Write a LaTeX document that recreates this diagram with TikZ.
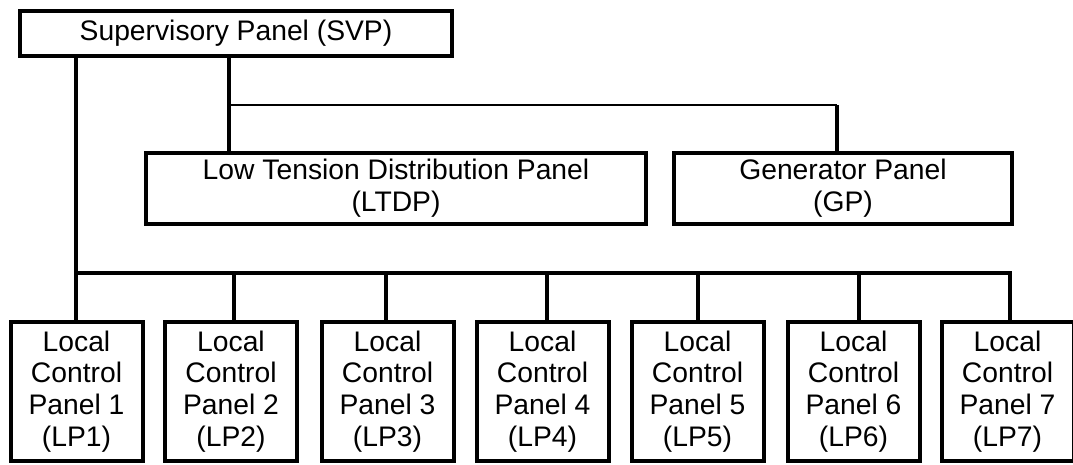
\documentclass[tikz,border=0pt]{standalone}
\usepackage{fontspec}
\setmainfont{Liberation Sans}
\newcommand{\panelfont}{\fontsize{21.2pt}{23.8pt}\selectfont}
\begin{document}
\begin{tikzpicture}[x=0.75pt,y=-0.75pt,
  box/.style={draw,line width=3pt,inner sep=0pt,align=center,font=\panelfont},
  widebox/.style={box,minimum height=53.25pt},
  lpbox/.style={box,minimum width=99pt,minimum height=104.25pt},
  wire/.style={line width=2.7pt},
  thinwire/.style={line width=2.1pt}]
\useasboundingbox (0,0) rectangle (1073,464);

% supervisory panel
\node[box,minimum width=324pt,minimum height=33.75pt] (svp) at (236,33.5) {Supervisory Panel (SVP)};

% second level panels
\node[widebox,minimum width=375pt] (ltdp) at (396,188.5) {Low Tension Distribution Panel\\(LTDP)};
\node[widebox,minimum width=253.5pt] (gp) at (843,188.5) {Generator Panel\\(GP)};

% local control panels
\node[lpbox] (lp1) at (76.5,391.5)  {Local\\Control\\Panel 1\\(LP1)};
\node[lpbox] (lp2) at (231,391.5)   {Local\\Control\\Panel 2\\(LP2)};
\node[lpbox] (lp3) at (387.5,391.5) {Local\\Control\\Panel 3\\(LP3)};
\node[lpbox] (lp4) at (542.5,391.5) {Local\\Control\\Panel 4\\(LP4)};
\node[lpbox] (lp5) at (697.5,391.5) {Local\\Control\\Panel 5\\(LP5)};
\node[lpbox] (lp6) at (853.5,391.5) {Local\\Control\\Panel 6\\(LP6)};
\node[lpbox] (lp7) at (1007.5,391.5){Local\\Control\\Panel 7\\(LP7)};

% tap points on the local panel bus
\coordinate (t1) at (76,273);
\coordinate (t2) at (234,273);
\coordinate (t3) at (386,273);
\coordinate (t4) at (547,273);
\coordinate (t5) at (698,273);
\coordinate (t6) at (859,273);
\coordinate (t7) at (1010,273);

% tap points for the upper feeders
\coordinate (u1) at (229,105);
\coordinate (u2) at (837,105);

% feeders from the supervisory panel
\draw[wire] (svp.south -| u1) -- (ltdp.north -| u1);
\draw[thinwire] (u1) -- (u2);
\draw[wire] (u2) -- (gp.north -| u2);

% local panel bus
\draw[wire] (svp.south -| t1) -- (t1) -- (t7) -- (lp7.north -| t7);
\draw[wire] (t1) -- (lp1.north -| t1);
\draw[wire] (t2) -- (lp2.north -| t2);
\draw[wire] (t3) -- (lp3.north -| t3);
\draw[wire] (t4) -- (lp4.north -| t4);
\draw[wire] (t5) -- (lp5.north -| t5);
\draw[wire] (t6) -- (lp6.north -| t6);
\end{tikzpicture}
\end{document}
